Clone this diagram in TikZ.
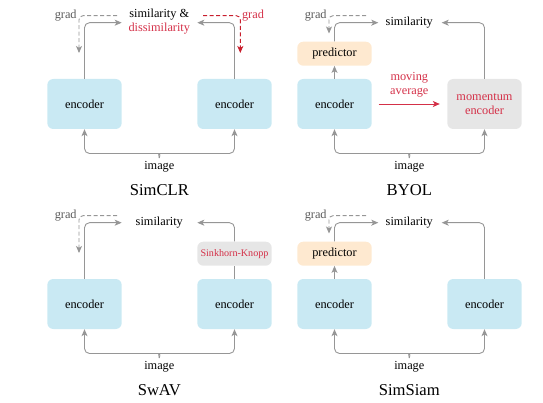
\documentclass[tikz,border=0pt]{standalone}
\usepackage{fontspec}
\setmainfont{Liberation Serif}
\usetikzlibrary{arrows.meta}
\definecolor{encblue}{RGB}{201,233,243}
\definecolor{predorange}{RGB}{254,233,208}
\definecolor{boxgray}{RGB}{230,230,230}
\definecolor{linegray}{RGB}{150,150,150}
\definecolor{txtred}{RGB}{212,48,72}
\definecolor{arrred}{RGB}{200,30,45}
\definecolor{txtgray}{RGB}{90,90,90}
\tikzset{
  box/.style={rounded corners=6pt, minimum width=74.4pt, draw=none, inner sep=0pt, align=center,
    font=\fontsize{12.3}{14}\selectfont},
  bigbox/.style={box, minimum height=50pt, fill=encblue},
  smallbox/.style={box, minimum height=24pt},
  lbl/.style={font=\fontsize{12.3}{14}\selectfont, inner sep=0pt, align=center},
  ttl/.style={font=\fontsize{16.6}{20}\selectfont, inner sep=0pt},
  tip/.style={-{Stealth[length=7pt,width=6pt,inset=1.8pt]}},
  conn/.style={tip, draw=linegray, line width=0.9pt, rounded corners=5pt},
  plainconn/.style={draw=linegray, line width=0.9pt},
  gradarr/.style={tip, draw=linegray, line width=0.9pt, dash pattern=on 4pt off 2.5pt, rounded corners=4pt},
  redgrad/.style={tip, draw=arrred, line width=0.9pt, dash pattern=on 4pt off 2.5pt, rounded corners=4pt},
}
\begin{document}
\begin{tikzpicture}[x=1pt,y=-1pt]
\useasboundingbox (0,0) rectangle (543,403);

% ---------------- SimCLR ----------------
\begin{scope}
  \node[bigbox] (a-encL) at (84.5,104) {encoder};
  \node[bigbox] (a-encR) at (234.5,104) {encoder};
  \node[lbl] (a-sim) at (159.3,22) {similarity \&\\\textcolor{txtred}{dissimilarity}};
  \coordinate (a-inL) at (121.7,22.7);
  \coordinate (a-inR) at (197.3,22.7);
  \draw[conn] (a-encL.north) |- (a-inL);
  \draw[conn] (a-encR.north) |- (a-inR);
  \node[lbl, text=txtgray] (a-gradL) at (65.7,15.3) {grad};
  \coordinate (a-gsL) at (117,15.7);
  \coordinate (a-geL) at (79,53);
  \draw[gradarr] (a-gsL) -| (a-geL);
  \node[lbl, text=txtred] (a-gradR) at (253,15.3) {grad};
  \coordinate (a-gsR) at (203,15.7);
  \coordinate (a-geR) at (240.3,53);
  \draw[redgrad] (a-gsR) -| (a-geR);
  \node[lbl] (a-img) at (159.3,166.3) {image};
  \coordinate (a-br) at (159.3,158);
  \draw[conn] (a-br) to[out=90,in=0] (155,153.5) -- (84.5,153.5) -- (a-encL.south);
  \draw[conn] (a-br) to[out=90,in=180] (163.6,153.5) -- (234.5,153.5) -- (a-encR.south);
  \node[ttl] (a-title) at (159.3,190) {SimCLR};
\end{scope}

% ---------------- BYOL ----------------
\begin{scope}[shift={(250,0)}]
  \node[smallbox, fill=predorange] (b-pred) at (84.5,53.7) {predictor};
  \node[bigbox] (b-enc) at (84.5,104) {encoder};
  \node[bigbox, fill=boxgray, text=txtred] (b-mom) at (234.5,104) {momentum\\encoder};
  \node[lbl] (b-sim) at (159.3,22.7) {similarity};
  \coordinate (b-inL) at (128.3,22.7);
  \coordinate (b-inR) at (191.7,22.7);
  \draw[conn] (b-enc.north) -- (b-pred.south);
  \draw[conn] (b-pred.north) |- (b-inL);
  \draw[conn] (b-mom.north) |- (b-inR);
  \node[lbl, text=txtgray] (b-grad) at (65.7,15.3) {grad};
  \coordinate (b-gs) at (116,15.7);
  \coordinate (b-ge) at (79,33.5);
  \draw[gradarr] (b-gs) -| (b-ge);
  \node[lbl, text=txtred] (b-mavg) at (159.3,84.5) {moving\\average};
  \draw[tip, draw=txtred, line width=0.9pt, shorten <=6.6pt, shorten >=7.3pt] (b-enc.east) -- (b-mom.west);
  \node[lbl] (b-img) at (159.3,166.3) {image};
  \coordinate (b-br) at (159.3,158);
  \draw[conn] (b-br) to[out=90,in=0] (155,153.5) -- (84.5,153.5) -- (b-enc.south);
  \draw[conn] (b-br) to[out=90,in=180] (163.6,153.5) -- (234.5,153.5) -- (b-mom.south);
  \node[ttl] (b-title) at (159.3,190) {BYOL};
\end{scope}

% ---------------- SwAV ----------------
\begin{scope}[shift={(0,200)}]
  \node[bigbox] (c-encL) at (84.5,104) {encoder};
  \node[bigbox] (c-encR) at (234.5,104) {encoder};
  \node[smallbox, fill=boxgray, text=txtred, font=\fontsize{10.1}{12}\selectfont] (c-sk) at (234.5,53.7) {Sinkhorn-Knopp};
  \node[lbl] (c-sim) at (159.3,22.7) {similarity};
  \coordinate (c-inL) at (121.7,22.7);
  \coordinate (c-inR) at (197.3,22.7);
  \draw[conn] (c-encL.north) |- (c-inL);
  \draw[plainconn] (c-encR.north) -- (c-sk.south);
  \draw[conn] (c-sk.north) |- (c-inR);
  \node[lbl, text=txtgray] (c-grad) at (65.7,15.3) {grad};
  \coordinate (c-gs) at (117,15.7);
  \coordinate (c-ge) at (79,53);
  \draw[gradarr] (c-gs) -| (c-ge);
  \node[lbl] (c-img) at (159.3,166.3) {image};
  \coordinate (c-br) at (159.3,158);
  \draw[conn] (c-br) to[out=90,in=0] (155,153.5) -- (84.5,153.5) -- (c-encL.south);
  \draw[conn] (c-br) to[out=90,in=180] (163.6,153.5) -- (234.5,153.5) -- (c-encR.south);
  \node[ttl] (c-title) at (159.3,190) {SwAV};
\end{scope}

% ---------------- SimSiam ----------------
\begin{scope}[shift={(250,200)}]
  \node[smallbox, fill=predorange] (d-pred) at (84.5,53.7) {predictor};
  \node[bigbox] (d-encL) at (84.5,104) {encoder};
  \node[bigbox] (d-encR) at (234.5,104) {encoder};
  \node[lbl] (d-sim) at (159.3,22.7) {similarity};
  \coordinate (d-inL) at (128.3,22.7);
  \coordinate (d-inR) at (191.7,22.7);
  \draw[conn] (d-encL.north) -- (d-pred.south);
  \draw[conn] (d-pred.north) |- (d-inL);
  \draw[conn] (d-encR.north) |- (d-inR);
  \node[lbl, text=txtgray] (d-grad) at (65.7,15.3) {grad};
  \coordinate (d-gs) at (116,15.7);
  \coordinate (d-ge) at (79,33.5);
  \draw[gradarr] (d-gs) -| (d-ge);
  \node[lbl] (d-img) at (159.3,166.3) {image};
  \coordinate (d-br) at (159.3,158);
  \draw[conn] (d-br) to[out=90,in=0] (155,153.5) -- (84.5,153.5) -- (d-encL.south);
  \draw[conn] (d-br) to[out=90,in=180] (163.6,153.5) -- (234.5,153.5) -- (d-encR.south);
  \node[ttl] (d-title) at (159.3,190) {SimSiam};
\end{scope}
\end{tikzpicture}
\end{document}
